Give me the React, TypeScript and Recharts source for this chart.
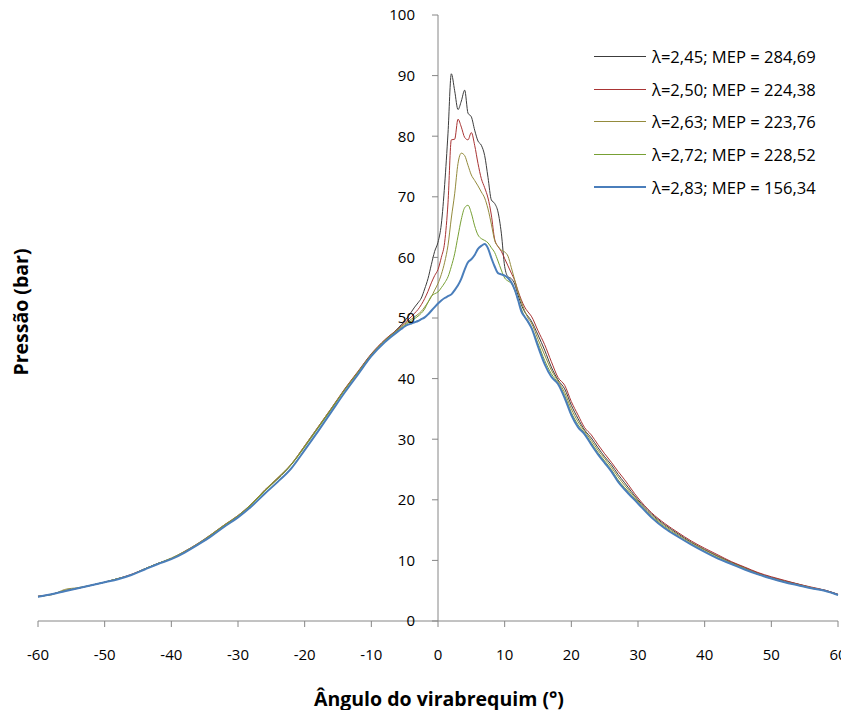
import { Line, LineChart, ReferenceLine, XAxis, YAxis } from "recharts";

const FONT = "'Open Sans', 'Noto Sans', sans-serif";
const AXIS = "#868686";

// crank angle (deg), denser around TDC where the curves split
const ANGLE = [
  -60, -58, -56, -54, -52, -50, -48, -46, -44, -42, -40, -38, -36, -34, -32, -30, -28, -26, -24, -22, -20, -18, -16, -14, -12, -10, -8,
  -6, -5.5, -5, -4.5, -4, -3.5, -3, -2.5, -2, -1.5, -1, -0.5, 0, 0.5, 1, 1.5, 2, 2.5, 3, 3.5, 4, 4.5, 5, 5.5, 6, 6.5, 7, 7.5, 8, 8.5, 9, 9.5, 10, 10.5, 11, 11.5, 12, 12.5, 13, 13.5, 14,
  15, 16, 17, 18, 19, 20, 21, 22, 23, 24, 25, 26, 27, 28, 30, 32, 34, 36, 38, 40, 42, 44, 46, 48, 50, 52, 54, 56, 58, 60,
];

const P245 = [
  4.0, 4.4, 5.0, 5.4, 5.9, 6.4, 7.0, 7.6, 8.6, 9.5, 10.3, 11.4, 12.7, 14.2, 15.8, 17.3, 19.2, 21.5, 23.5, 25.8, 28.8, 31.9, 35.0, 38.2, 41.1, 44.0, 46.3,
  48.3, 48.9, 49.5, 50.2, 51.0, 51.8, 52.5, 53.3, 54.8, 56.5, 58.8, 61.0, 62.5, 65.5, 72.0, 80.5, 90.3, 87.5, 84.4, 85.8, 87.6, 83.8, 83.2, 81.0, 79.2, 78.5, 76.8, 73.2, 69.5, 68.9, 67.5, 64.0, 58.5, 56.8, 56.5, 55.6, 53.8, 52.2, 51.0, 50.3, 49.5,
  47.2, 44.7, 41.9, 39.8, 38.3, 35.6, 33.4, 31.5, 30.2, 28.6, 27.1, 25.8, 24.2, 22.8, 20.0, 17.7, 15.9, 14.4, 13.0, 11.8, 10.7, 9.7, 8.8, 7.9, 7.2, 6.6, 6.1, 5.5, 5.1, 4.4,
];

const P250 = [
  4.1, 4.4, 5.0, 5.4, 5.9, 6.4, 7.0, 7.7, 8.6, 9.5, 10.3, 11.5, 12.8, 14.3, 15.9, 17.4, 19.3, 21.6, 23.6, 25.9, 28.9, 32.0, 35.1, 38.3, 41.2, 44.1, 46.4,
  48.2, 48.7, 49.2, 49.7, 50.2, 50.8, 51.4, 52.2, 53.2, 54.4, 55.8, 57.0, 58.0, 60.0, 62.5, 69.0, 79.4, 79.5, 82.8, 81.5, 79.8, 79.4, 80.6, 78.5, 75.5, 73.0, 71.5, 69.8, 67.0, 63.0, 61.8, 61.0, 59.8, 58.6, 57.4, 56.2, 54.5, 53.0, 51.8, 51.0, 50.3,
  47.9, 45.6, 42.8, 40.2, 38.9, 36.2, 34.0, 31.9, 30.7, 29.1, 27.6, 26.2, 24.7, 23.3, 20.3, 17.9, 16.1, 14.6, 13.2, 12.0, 10.9, 9.8, 8.9, 8.0, 7.3, 6.7, 6.1, 5.6, 5.1, 4.4,
];

const P263 = [
  4.1, 4.3, 5.2, 5.5, 5.9, 6.4, 7.0, 7.6, 8.6, 9.5, 10.4, 11.5, 12.8, 14.3, 15.9, 17.4, 19.3, 21.6, 23.7, 25.9, 28.9, 32.0, 35.1, 38.2, 41.1, 44.0, 46.3,
  48.1, 48.6, 49.0, 49.4, 49.8, 50.2, 50.6, 51.1, 51.8, 52.6, 53.5, 54.6, 55.7, 57.2, 59.2, 62.0, 66.5, 70.5, 75.5, 77.2, 76.8, 75.2, 73.6, 72.7, 71.8, 70.8, 69.8, 68.0, 65.5, 62.8, 61.8, 61.2, 60.9, 60.2, 58.3, 56.3, 54.3, 52.7, 51.2, 50.0, 49.2,
  46.5, 43.9, 41.4, 39.6, 37.7, 35.0, 32.9, 31.3, 29.8, 28.2, 26.8, 25.4, 23.8, 22.4, 19.8, 17.5, 15.7, 14.2, 12.9, 11.7, 10.6, 9.6, 8.7, 7.8, 7.1, 6.5, 6.0, 5.5, 5.0, 4.3,
];

const P272 = [
  4.0, 4.4, 5.0, 5.4, 5.9, 6.4, 7.0, 7.6, 8.6, 9.5, 10.3, 11.4, 12.7, 14.2, 15.8, 17.3, 19.2, 21.4, 23.5, 25.8, 28.7, 31.8, 34.9, 38.1, 41.0, 43.9, 46.2,
  48.0, 48.4, 48.8, 49.2, 49.5, 49.9, 50.3, 50.8, 51.5, 52.6, 53.6, 54.0, 54.3, 55.0, 55.8, 56.8, 58.5, 60.6, 63.5, 66.3, 68.2, 68.6, 67.3, 65.2, 63.7, 63.1, 62.8, 62.4, 61.6, 60.8, 59.4, 57.9, 56.6, 56.1, 55.7, 54.6, 53.0, 51.5, 50.2, 49.3, 48.4,
  45.8, 43.0, 40.8, 39.3, 37.2, 34.4, 32.4, 31.0, 29.4, 27.8, 26.4, 25.0, 23.3, 22.0, 19.6, 17.3, 15.5, 14.0, 12.7, 11.5, 10.4, 9.5, 8.6, 7.7, 7.0, 6.4, 5.9, 5.4, 5.0, 4.3,
];

const P283 = [
  4.0, 4.4, 4.9, 5.4, 5.9, 6.4, 6.9, 7.6, 8.5, 9.4, 10.2, 11.3, 12.6, 14.0, 15.6, 17.1, 18.9, 21.0, 23.0, 25.2, 28.2, 31.3, 34.5, 37.7, 40.7, 43.7, 46.0,
  47.8, 48.2, 48.6, 48.9, 49.1, 49.3, 49.5, 49.8, 50.1, 50.6, 51.2, 51.8, 52.4, 52.9, 53.3, 53.6, 53.9, 54.6, 55.4, 56.5, 58.0, 59.2, 59.7, 60.4, 61.4, 61.9, 62.2, 61.5, 59.9, 58.5, 57.4, 57.2, 57.0, 56.6, 55.9, 54.7, 53.0, 51.1, 50.2, 49.4, 48.4,
  45.3, 42.4, 40.3, 39.1, 36.8, 34.0, 32.0, 30.8, 29.1, 27.5, 26.1, 24.7, 23.0, 21.7, 19.4, 17.1, 15.3, 13.9, 12.6, 11.4, 10.3, 9.4, 8.5, 7.7, 7.0, 6.4, 5.9, 5.4, 5.0, 4.3,
];

const X_TICKS = [-60, -50, -40, -30, -20, -10, 0, 10, 20, 30, 40, 50, 60];
const Y_TICKS = [0, 10, 20, 30, 40, 50, 60, 70, 80, 90, 100];

const SERIES = [
  { key: "p245", name: "λ=2,45; MEP = 284,69", color: "#3c3c3c", width: 1, values: P245 },
  { key: "p250", name: "λ=2,50; MEP = 224,38", color: "#a93434", width: 1, values: P250 },
  { key: "p263", name: "λ=2,63; MEP = 223,76", color: "#948b3d", width: 1, values: P263 },
  { key: "p272", name: "λ=2,72; MEP = 228,52", color: "#77a034", width: 1, values: P272 },
  { key: "p283", name: "λ=2,83; MEP = 156,34", color: "#4a7ebb", width: 2, values: P283 },
];

const data = ANGLE.map((angle, i) => {
  const row: Record<string, number> = { angle };
  SERIES.forEach((s) => (row[s.key] = s.values[i]));
  return row;
});

// chart fills the whole window (the wrapper cancels the body margin)
const W = 849;
const H = 718;
const Y_AXIS_W = 1;
const margin = { top: 15, right: 11, bottom: 13, left: 37 };
// the pressure axis sits on angle 0, i.e. the middle of the plot
const PLOT_LEFT = margin.left + Y_AXIS_W;
const CENTER_X = PLOT_LEFT + (W - PLOT_LEFT - margin.right) / 2;

function CenterTick(props: { y?: number; payload?: { value: number } }) {
  const { y, payload } = props;
  if (y === undefined || !payload) return <g />;
  return (
    <g>
      <line x1={CENTER_X - 6} x2={CENTER_X} y1={y} y2={y} stroke={AXIS} />
      <text x={CENTER_X - 23} y={y} dy="0.36em" textAnchor="end" fill="#000" fontSize={15} fontFamily={FONT}>
        {payload.value}
      </text>
    </g>
  );
}

function LegendBox() {
  return (
    <div style={{ position: "absolute", left: 594, top: 40, fontFamily: FONT, fontSize: 16.6, color: "#000" }}>
      {SERIES.map((s) => (
        <div key={s.key} style={{ display: "flex", alignItems: "center", height: 32.7, whiteSpace: "nowrap" }}>
          <div style={{ width: 52, height: 0, borderTop: `${s.width}px solid ${s.color}`, marginRight: 6 }} />
          <span>{s.name}</span>
        </div>
      ))}
    </div>
  );
}

const titleStyle = {
  position: "absolute" as const,
  fontFamily: FONT,
  fontWeight: 700,
  fontSize: 19.5,
  color: "#000",
  textAlign: "center" as const,
};

export default function App() {
  return (
    <div style={{ position: "relative", width: W, height: H, margin: -8, overflow: "hidden" }}>
      <LineChart width={W} height={H} data={data} margin={margin}>
        <XAxis
          dataKey="angle"
          type="number"
          domain={[-60, 60]}
          ticks={X_TICKS}
          height={84}
          stroke={AXIS}
          tickSize={6}
          tickMargin={22}
          tick={{ fill: "#000", fontSize: 15, fontFamily: FONT }}
        />
        <YAxis
          type="number"
          domain={[0, 100]}
          ticks={Y_TICKS}
          interval={0}
          width={Y_AXIS_W}
          axisLine={false}
          tickLine={false}
          tick={<CenterTick />}
        />
        <ReferenceLine x={0} stroke={AXIS} />
        {SERIES.map((s) => (
          <Line
            key={s.key}
            dataKey={s.key}
            name={s.name}
            type="monotone"
            stroke={s.color}
            strokeWidth={s.width}
            dot={false}
            activeDot={false}
            isAnimationActive={false}
          />
        ))}
      </LineChart>
      <LegendBox />
      <div style={{ ...titleStyle, left: 0, width: 878, top: 686, lineHeight: "26px" }}>Ângulo do virabrequim (°)</div>
      <div
        style={{
          ...titleStyle,
          left: 21 - 100,
          top: 312 - 13,
          width: 200,
          height: 26,
          lineHeight: "26px",
          transform: "rotate(-90deg)",
        }}
      >
        Pressão (bar)
      </div>
    </div>
  );
}
